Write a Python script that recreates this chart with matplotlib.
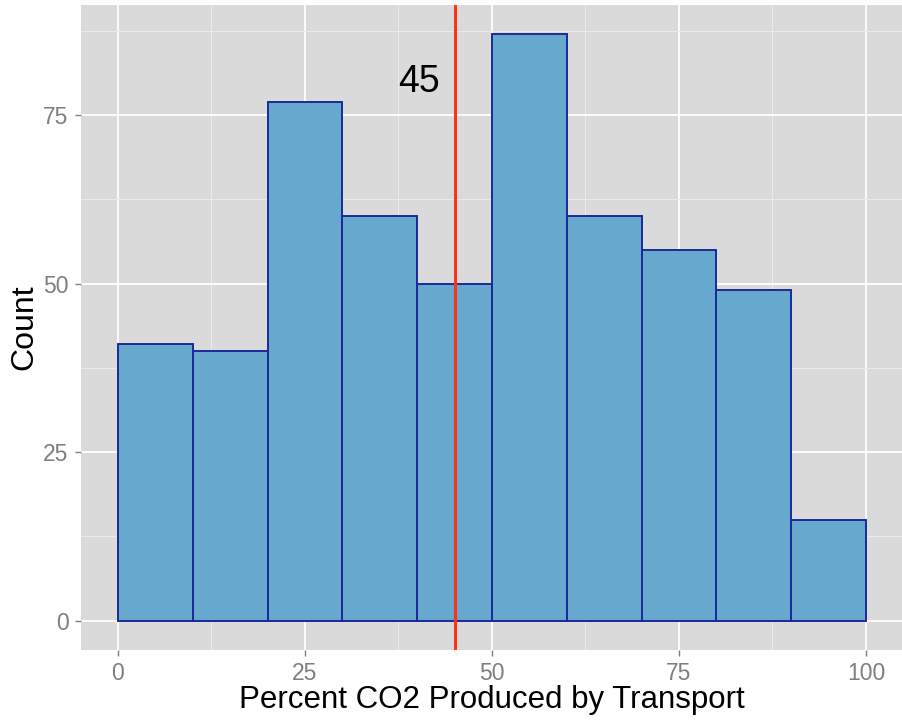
# Histogram of percent CO2 produced by transport, ggplot-like look
import numpy as np
import matplotlib.pyplot as plt

plt.rcParams['font.family'] = ['Liberation Sans', 'DejaVu Sans']

# Data
bin_edges = [0, 10, 20, 30, 40, 50, 60, 70, 80, 90, 100]
counts = [41, 40, 77, 60, 50, 87, 60, 55, 49, 15]
mean_line = 45
x_ticks = [0, 25, 50, 75, 100]
y_ticks = [0, 25, 50, 75]

fig = plt.figure(figsize=(9.02, 7.21), dpi=100)
ax = fig.add_axes([0.0893, 0.0985, 0.9122, 0.8945])
ax.set_facecolor('#DADADA')

# Histogram bars
lefts = np.array(bin_edges[:-1])
widths = np.diff(bin_edges)
ax.bar(lefts, counts, width=widths, align='edge', color='#66A8CE',
       edgecolor='#1A2A9A', linewidth=1.4, zorder=3)

# Vertical line and label
ax.axvline(mean_line, color='#FF3314', linewidth=2.2, zorder=4)
ax.text(40.3, 80, str(mean_line), fontsize=27, ha='center', va='center',
        color='black', zorder=5)

# Axis limits with ggplot expansion
ax.set_xlim(-5, 105)
ax.set_ylim(-0.05 * max(counts), max(counts) * 1.05)

ax.set_xticks(x_ticks)
ax.set_yticks(y_ticks)
ax.set_xticks([12.5, 37.5, 62.5, 87.5], minor=True)
ax.set_yticks([12.5, 37.5, 62.5, 87.5], minor=True)
ax.grid(which='major', color='white', linewidth=1.3, zorder=0)
ax.grid(which='minor', color='#EBEBEB', linewidth=0.7, zorder=0)
ax.set_axisbelow(True)

for s in ax.spines.values():
    s.set_visible(False)
ax.tick_params(which='major', length=4.5, width=1.0, color='#7F7F7F',
               labelcolor='#7F7F7F', labelsize=16.5, pad=4)
ax.tick_params(which='minor', length=0)

ax.set_xlabel('Percent CO2 Produced by Transport', fontsize=22.5, labelpad=0)
ax.set_ylabel('Count', fontsize=23, labelpad=3)

fig.savefig('out.png', dpi=100)
